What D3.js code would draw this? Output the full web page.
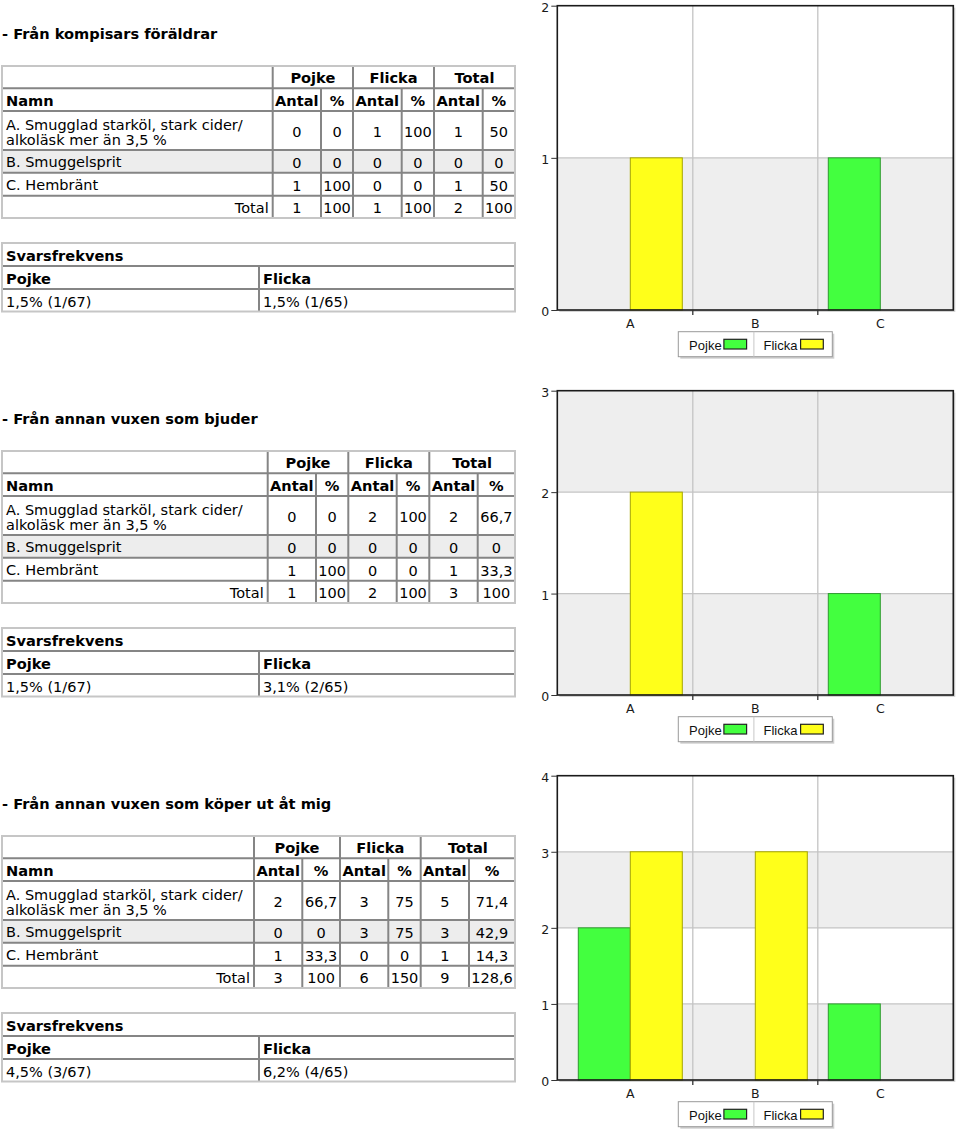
<!DOCTYPE html>
<html><head><meta charset="utf-8">
<script src="https://cdn.jsdelivr.net/npm/d3@7"></script>
<style>
html,body{margin:0;padding:0;background:#fff;}
svg{display:block;}
.tt{font-family:"DejaVu Sans",Verdana,sans-serif;font-size:14.5px;fill:#000;}
.b{font-weight:bold;font-size:14.6px;}
</style></head><body>
<svg id="c" width="960" height="1133"></svg>
<script>
// ---------- data ----------
const sectionTitles = ["- Från kompisars föräldrar", "- Från annan vuxen som bjuder", "- Från annan vuxen som köper ut åt mig"];
const rowNames = [["A. Smugglad starköl, stark cider/", "alkoläsk mer än 3,5 %"], ["B. Smuggelsprit"], ["C. Hembränt"]];
const categories = ["A", "B", "C"];
const seriesNames = ["Pojke", "Flicka"];
const groupHeaders = ["Pojke", "Flicka", "Total"];
const subHeaders = ["Antal", "%", "Antal", "%", "Antal", "%"];
const pojkeAntal = [[0, 0, 1], [0, 0, 1], [2, 0, 1]];
const pojkePct = [["0", "0", "100"], ["0", "0", "100"], ["66,7", "0", "33,3"]];
const flickaAntal = [[1, 0, 0], [2, 0, 0], [3, 3, 0]];
const flickaPct = [["100", "0", "0"], ["100", "0", "0"], ["75", "75", "0"]];
const totalAntal = [[1, 0, 1], [2, 0, 1], [5, 3, 1]];
const totalPct = [["50", "0", "50"], ["66,7", "0", "33,3"], ["71,4", "42,9", "14,3"]];
const sumRow = [["1", "100", "1", "100", "2", "100"], ["1", "100", "2", "100", "3", "100"], ["3", "100", "6", "150", "9", "128,6"]];
const svarPojke = ["1,5% (1/67)", "1,5% (1/67)", "4,5% (3/67)"];
const svarFlicka = ["1,5% (1/65)", "3,1% (2/65)", "6,2% (4/65)"];
const yMaxes = [2, 3, 4];

// ---------- layout ----------
const SEC = 385;
const colEdges = [
  [2, 272.7, 321, 353, 401.7, 434, 482.7, 515],
  [2, 267.7, 316, 348.3, 396.7, 429.3, 477.7, 515],
  [2, 254, 302.3, 340, 388.3, 420.7, 469, 515]
];
const rowEdges = [66, 88.3, 111, 150, 172.7, 195.7, 218];
const svarEdges = [243, 266, 289, 311.5];
const svarSplit = 259;
const plotL = 557.3, plotR = 953.3, plotT = 5.7, plotB = 310;
const GREEN = "#43ff3f", YELLOW = "#ffff1a";
const INNER = "#858585", OUTER = "#c6c6c6";

const svg = d3.select("#c");

function hline(g, x1, x2, y, c, w) {
  g.append("line").attr("x1", x1).attr("x2", x2).attr("y1", y).attr("y2", y)
    .attr("stroke", c).attr("stroke-width", w);
}
function vline(g, x, y1, y2, c, w) {
  g.append("line").attr("x1", x).attr("x2", x).attr("y1", y1).attr("y2", y2)
    .attr("stroke", c).attr("stroke-width", w);
}
function txt(g, x, y, s, anchor, bold) {
  return g.append("text").attr("class", "tt" + (bold ? " b" : "")).attr("x", x).attr("y", y)
    .attr("text-anchor", anchor || "start").text(s);
}

for (let s = 0; s < 3; s++) {
  const g = svg.append("g").attr("transform", `translate(0,${s * SEC})`);
  // title
  txt(g, 2, 38.5, sectionTitles[s], "start", true);

  // ---- main table ----
  const ce = colEdges[s];
  const L = ce[0], R = ce[7];
  g.append("rect").attr("x", L).attr("y", rowEdges[3]).attr("width", R - L)
    .attr("height", rowEdges[4] - rowEdges[3]).attr("fill", "#ededed");
  rowEdges.slice(1, -1).forEach(yy => hline(g, L, R, yy, INNER, 2));
  [1, 3, 5].forEach(i => vline(g, ce[i], rowEdges[0], rowEdges[1], INNER, 2));
  [1, 2, 3, 4, 5, 6].forEach(i => vline(g, ce[i], rowEdges[1], rowEdges[6], INNER, 2));
  g.append("rect").attr("x", L).attr("y", rowEdges[0]).attr("width", R - L)
    .attr("height", rowEdges[6] - rowEdges[0]).attr("fill", "none")
    .attr("stroke", OUTER).attr("stroke-width", 2);

  const mid = (a, b) => (a + b) / 2;
  // header row 1
  groupHeaders.forEach((h, i) => {
    txt(g, mid(ce[1 + 2 * i], ce[3 + 2 * i]), mid(rowEdges[0], rowEdges[1]) + 6, h, "middle", true);
  });
  // header row 2
  txt(g, L + 4, mid(rowEdges[1], rowEdges[2]) + 6, "Namn", "start", true);
  subHeaders.forEach((h, i) => {
    txt(g, mid(ce[1 + i], ce[2 + i]), mid(rowEdges[1], rowEdges[2]) + 6, h, "middle", true);
  });
  // data rows
  for (let r = 0; r < 3; r++) {
    const top = rowEdges[2 + r], bot = rowEdges[3 + r], m = mid(top, bot);
    const names = rowNames[r];
    if (names.length === 2) {
      txt(g, L + 4, top + 18.5, names[0]);
      txt(g, L + 4, top + 33.5, names[1]);
    } else {
      txt(g, L + 4, m + 6, names[0]);
    }
    const vals = [pojkeAntal[s][r], pojkePct[s][r], flickaAntal[s][r], flickaPct[s][r], totalAntal[s][r], totalPct[s][r]];
    vals.forEach((v, i) => txt(g, mid(ce[1 + i], ce[2 + i]), m + 6.5, String(v), "middle"));
  }
  // total row
  {
    const m = mid(rowEdges[5], rowEdges[6]);
    txt(g, ce[1] - 4, m + 6, "Total", "end");
    sumRow[s].forEach((v, i) => txt(g, mid(ce[1 + i], ce[2 + i]), m + 6, v, "middle"));
  }

  // ---- svarsfrekvens table ----
  hline(g, L, R, svarEdges[1], INNER, 2);
  hline(g, L, R, svarEdges[2], INNER, 2);
  vline(g, svarSplit, svarEdges[1], svarEdges[3], INNER, 2);
  g.append("rect").attr("x", L).attr("y", svarEdges[0]).attr("width", R - L)
    .attr("height", svarEdges[3] - svarEdges[0]).attr("fill", "none")
    .attr("stroke", OUTER).attr("stroke-width", 2);
  txt(g, L + 4, mid(svarEdges[0], svarEdges[1]) + 6.5, "Svarsfrekvens", "start", true);
  txt(g, L + 4, mid(svarEdges[1], svarEdges[2]) + 6.5, "Pojke", "start", true);
  txt(g, svarSplit + 4, mid(svarEdges[1], svarEdges[2]) + 6.5, "Flicka", "start", true);
  txt(g, L + 4, mid(svarEdges[2], svarEdges[3]) + 6.5, svarPojke[s]);
  txt(g, svarSplit + 4, mid(svarEdges[2], svarEdges[3]) + 6.5, svarFlicka[s]);

  // ---- chart ----
  const x = d3.scaleBand().domain(categories).range([plotL, plotR]).paddingInner(0.168).paddingOuter(0.168);
  const xs = d3.scaleBand().domain(seriesNames).range([0, x.bandwidth()]);
  const y = d3.scaleLinear().domain([0, yMaxes[s]]).range([plotB, plotT]);
  const ticks = d3.range(0, yMaxes[s] + 1);

  const cg = g.append("g");
  // shadow
  cg.append("rect").attr("x", plotL + 2).attr("y", plotT + 2).attr("width", plotR - plotL)
    .attr("height", plotB - plotT).attr("fill", "#d4d4d4");
  cg.append("rect").attr("x", plotL).attr("y", plotT).attr("width", plotR - plotL)
    .attr("height", plotB - plotT).attr("fill", "#fff");
  // alternating bands
  cg.selectAll("rect.band").data(ticks.slice(0, -1).filter(t => t % 2 === 0)).join("rect")
    .attr("class", "band").attr("x", plotL).attr("width", plotR - plotL)
    .attr("y", d => y(d + 1)).attr("height", d => y(d) - y(d + 1)).attr("fill", "#eeeeee");
  // horizontal gridlines
  cg.selectAll("line.hg").data(ticks.slice(1, -1)).join("line").attr("class", "hg")
    .attr("x1", plotL).attr("x2", plotR).attr("y1", d => y(d)).attr("y2", d => y(d))
    .attr("stroke", "#c4c4c4").attr("stroke-width", 1.3);
  // vertical gridlines between categories
  const bounds = categories.slice(0, -1).map((c, i) =>
    (x(c) + x(categories[i + 1]) + x.bandwidth()) / 2);
  cg.selectAll("line.vg").data(bounds).join("line").attr("class", "vg")
    .attr("x1", d => d).attr("x2", d => d).attr("y1", plotT).attr("y2", plotB)
    .attr("stroke", "#c4c4c4").attr("stroke-width", 1.3);
  // bars
  const barData = [];
  categories.forEach((c, i) => {
    barData.push({ c, k: "Pojke", v: pojkeAntal[s][i] });
    barData.push({ c, k: "Flicka", v: flickaAntal[s][i] });
  });
  cg.selectAll("rect.bar").data(barData.filter(d => d.v > 0)).join("rect").attr("class", "bar")
    .attr("x", d => x(d.c) + xs(d.k)).attr("width", xs.bandwidth())
    .attr("y", d => y(d.v)).attr("height", d => y(0) - y(d.v))
    .attr("fill", d => d.k === "Pojke" ? GREEN : YELLOW)
    .attr("stroke", d => d.k === "Pojke" ? "#2f9a2f" : "#a5a500").attr("stroke-width", 1);
  // plot border
  cg.append("rect").attr("x", plotL).attr("y", plotT).attr("width", plotR - plotL)
    .attr("height", plotB - plotT).attr("fill", "none").attr("stroke", "#1a1a1a").attr("stroke-width", 1.6);
  // axes
  const ya = cg.append("g").attr("transform", `translate(${plotL},0)`)
    .call(d3.axisLeft(y).tickValues(ticks).tickFormat(d3.format("d")).tickSize(6).tickPadding(2));
  ya.select(".domain").remove();
  ya.selectAll(".tick line").attr("stroke", "#333");
  ya.selectAll(".tick text").attr("dy", "0.45em");
  const xa = cg.append("g").attr("transform", `translate(0,${plotB})`)
    .call(d3.axisBottom(x).tickSize(0).tickPadding(9));
  xa.select(".domain").remove();
  [ya, xa].forEach(a => a.attr("font-size", 12.5).attr("font-family", "'DejaVu Sans', Arial, sans-serif")
    .selectAll("text").attr("fill", "#1a1a1a").style("font-size", "12.5px"));
  cg.selectAll("line.xt").data(bounds).join("line").attr("class", "xt")
    .attr("x1", d => d).attr("x2", d => d).attr("y1", plotB).attr("y2", plotB + 5)
    .attr("stroke", "#333").attr("stroke-width", 1.3);

  // legend
  const lw = 154, lh = 25;
  const lx = (plotL + plotR) / 2 - lw / 2, ly = plotB + 21.7;
  const lg = cg.append("g").attr("transform", `translate(${lx},${ly})`);
  lg.append("rect").attr("x", 2).attr("y", 2).attr("width", lw).attr("height", lh).attr("fill", "#cfcfcf");
  lg.append("rect").attr("x", 0).attr("y", 0).attr("width", lw).attr("height", lh)
    .attr("fill", "#fff").attr("stroke", "#9a9a9a").attr("stroke-width", 1);
  vline(lg, 75.6, 0, lh, "#c8c8c8", 1);
  const items = [
    { name: seriesNames[0], color: GREEN, tx: 10.8, sx: 45.6 },
    { name: seriesNames[1], color: YELLOW, tx: 85.2, sx: 122.3 }
  ];
  items.forEach(it => {
    lg.append("text").attr("x", it.tx).attr("y", 18.3)
      .style("font-family", "'Liberation Sans', Arial, sans-serif").style("font-size", "13px")
      .attr("fill", "#111").text(it.name);
    lg.append("rect").attr("x", it.sx).attr("y", 7.6).attr("width", 22.7).attr("height", 9.7)
      .attr("fill", it.color).attr("stroke", "#222").attr("stroke-width", 1.2);
  });
}
</script>
</body></html>
